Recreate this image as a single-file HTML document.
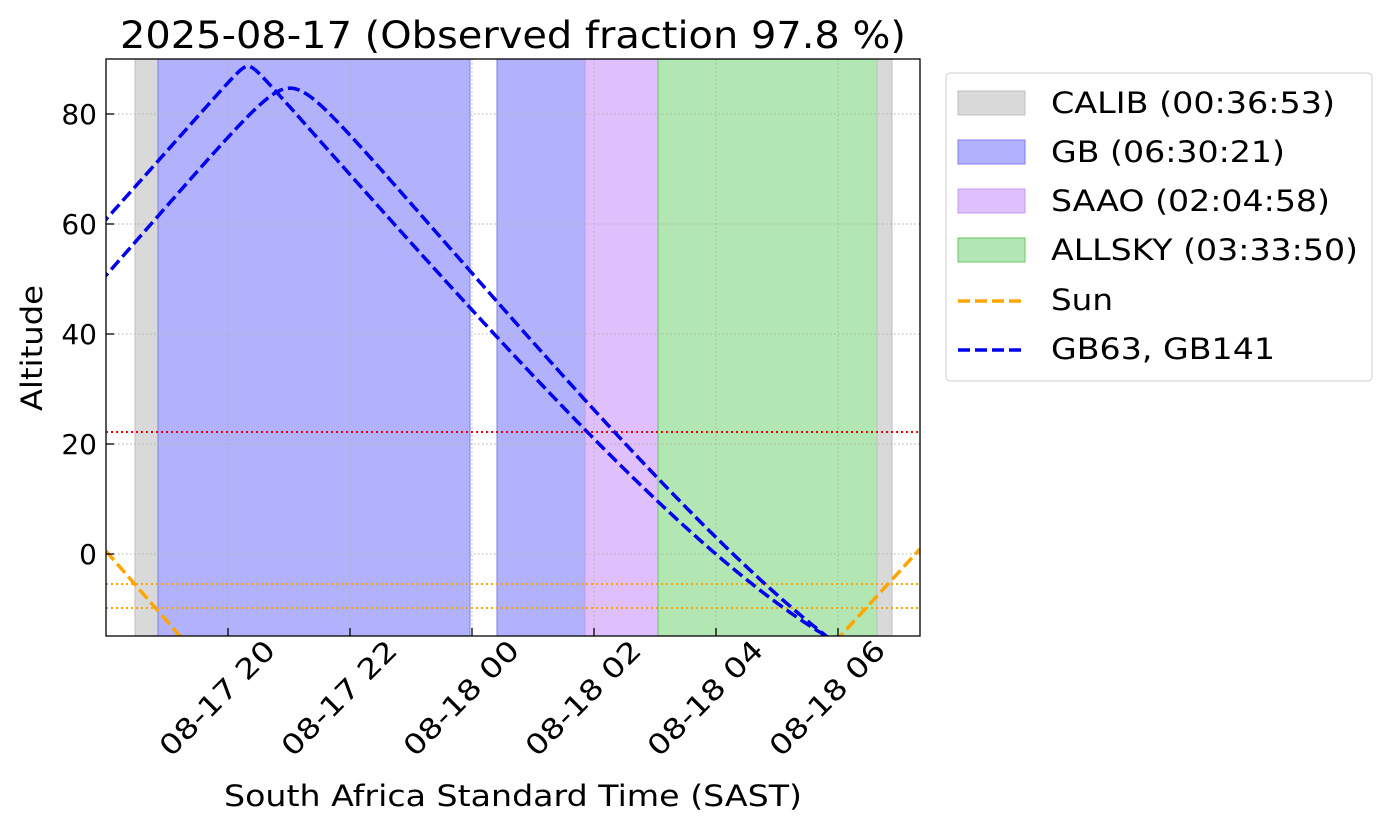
<!DOCTYPE html>
<html><head><meta charset="utf-8"><style>
html,body{margin:0;padding:0;background:#fff;}
svg text{font-family:"DejaVu Sans","Liberation Sans",sans-serif;fill:#000;}
</style></head><body>
<svg id="s" width="1388" height="829" xmlns="http://www.w3.org/2000/svg">
<rect width="1388" height="829" fill="#fff"/>
<rect x="135" y="59" width="23" height="577" fill="#d9d9d9" stroke="#bfbfbf"/>
<rect x="158" y="59" width="312" height="577" fill="#b2b2fc" stroke="#7f7fe8"/>
<rect x="497" y="59" width="88" height="577" fill="#b2b2fc" stroke="#7f7fe8"/>
<rect x="585" y="59" width="73" height="577" fill="#dfc0fc" stroke="#c49af0"/>
<rect x="658" y="59" width="219" height="577" fill="#b2e6b2" stroke="#6cc46c"/>
<rect x="877" y="59" width="15" height="577" fill="#d9d9d9" stroke="#bfbfbf"/>
<g id="grid" stroke="#b0b0b0" stroke-width="1" stroke-dasharray="1.5,2.5"></g>
<line x1="106" x2="920" y1="432" y2="432" stroke="#e00" stroke-width="2" stroke-dasharray="2,3"/>
<line x1="106" x2="920" y1="584" y2="584" stroke="orange" stroke-width="2" stroke-dasharray="2,3"/>
<line x1="106" x2="920" y1="608" y2="608" stroke="orange" stroke-width="2" stroke-dasharray="2,3"/>
<defs><clipPath id="c"><rect x="106" y="59" width="814" height="577"/></clipPath></defs>
<g clip-path="url(#c)" fill="none" stroke-width="3.5" stroke-dasharray="12,5">
<line x1="106" y1="551" x2="185" y2="642" stroke="orange"/>
<line x1="835" y1="642" x2="920" y2="549" stroke="orange"/>
<path id="c1" stroke="#0000f0"/>
<path id="c2" stroke="#0000f0"/>
</g>
<rect x="106" y="59" width="814" height="577" fill="none" stroke="#000" stroke-width="1.3"/>
<g id="ticks" stroke="#000" stroke-width="1.3"></g>
<g font-size="28" text-anchor="end">
<text x="97" y="124">80</text><text x="97" y="234">60</text><text x="97" y="344">40</text>
<text x="97" y="454">20</text><text x="97" y="564">0</text>
</g>
<g font-size="28" text-anchor="middle" id="xl"></g>
<text x="120" y="48" font-size="37" textLength="786" lengthAdjust="spacingAndGlyphs">2025-08-17 (Observed fraction 97.8 %)</text>
<text x="224" y="806" font-size="29" textLength="578" lengthAdjust="spacingAndGlyphs">South Africa Standard Time (SAST)</text>
<text transform="translate(42,411) rotate(-90)" font-size="29" textLength="126" lengthAdjust="spacingAndGlyphs">Altitude</text>
<rect x="946" y="73" width="426" height="308" rx="4" fill="#fff" stroke="#ccc"/>
<rect x="958" y="91" width="67" height="24" fill="#d9d9d9" stroke="#bfbfbf"/>
<rect x="958" y="140" width="67" height="24" fill="#b2b2fc" stroke="#7f7fe8"/>
<rect x="958" y="189" width="67" height="24" fill="#dfc0fc" stroke="#c49af0"/>
<rect x="958" y="238" width="67" height="24" fill="#b2e6b2" stroke="#6cc46c"/>
<line x1="958" x2="1025" y1="301" y2="301" stroke="orange" stroke-width="3.5" stroke-dasharray="12,5"/>
<line x1="958" x2="1025" y1="350" y2="350" stroke="#0000f0" stroke-width="3.5" stroke-dasharray="12,5"/>
<g font-size="29">
<text x="1051" y="113" textLength="284" lengthAdjust="spacingAndGlyphs">CALIB (00:36:53)</text>
<text x="1051" y="162" textLength="234" lengthAdjust="spacingAndGlyphs">GB (06:30:21)</text>
<text x="1051" y="211" textLength="279" lengthAdjust="spacingAndGlyphs">SAAO (02:04:58)</text>
<text x="1051" y="260" textLength="307" lengthAdjust="spacingAndGlyphs">ALLSKY (03:33:50)</text>
<text x="1051" y="310" textLength="62" lengthAdjust="spacingAndGlyphs">Sun</text>
<text x="1051" y="359" textLength="224" lengthAdjust="spacingAndGlyphs">GB63, GB141</text>
</g>
</svg>
<script>
var NS="http://www.w3.org/2000/svg";
function el(p,t,a){var e=document.createElementNS(NS,t);for(var k in a)e.setAttribute(k,a[k]);p.appendChild(e);return e;}
var g=document.getElementById('grid'),tk=document.getElementById('ticks'),xl=document.getElementById('xl');
[114,224,334,444,554].forEach(function(y){el(g,'line',{x1:106,x2:920,y1:y,y2:y});el(tk,'line',{x1:106,x2:114,y1:y,y2:y});});
var labs=['08-17 20','08-17 22','08-18 00','08-18 02','08-18 04','08-18 06'];
[228,350,472,594,716,838].forEach(function(x,i){el(g,'line',{x1:x,x2:x,y1:59,y2:636});el(tk,'line',{x1:x,x2:x,y1:636,y2:628});
var t=el(xl,'text',{transform:'translate('+(x-4)+',705) rotate(-45)',textLength:'150',lengthAdjust:'spacingAndGlyphs'});t.textContent=labs[i];});
var phi=-32.4*Math.PI/180;
function curve(id,dec,px){dec*=Math.PI/180;var d='';
for(var x=100;x<=925;x+=2){var H=(x-px)/61*15*Math.PI/180;
var s=Math.sin(phi)*Math.sin(dec)+Math.cos(phi)*Math.cos(dec)*Math.cos(H);
var a=Math.asin(s)*180/Math.PI;var y=554-a*5.5;d+=(d?'L':'M')+x+','+y.toFixed(1);}
document.getElementById(id).setAttribute('d',d);}
curve('c1',-33.7,248);curve('c2',-27.1,290);
</script>
</body></html>
